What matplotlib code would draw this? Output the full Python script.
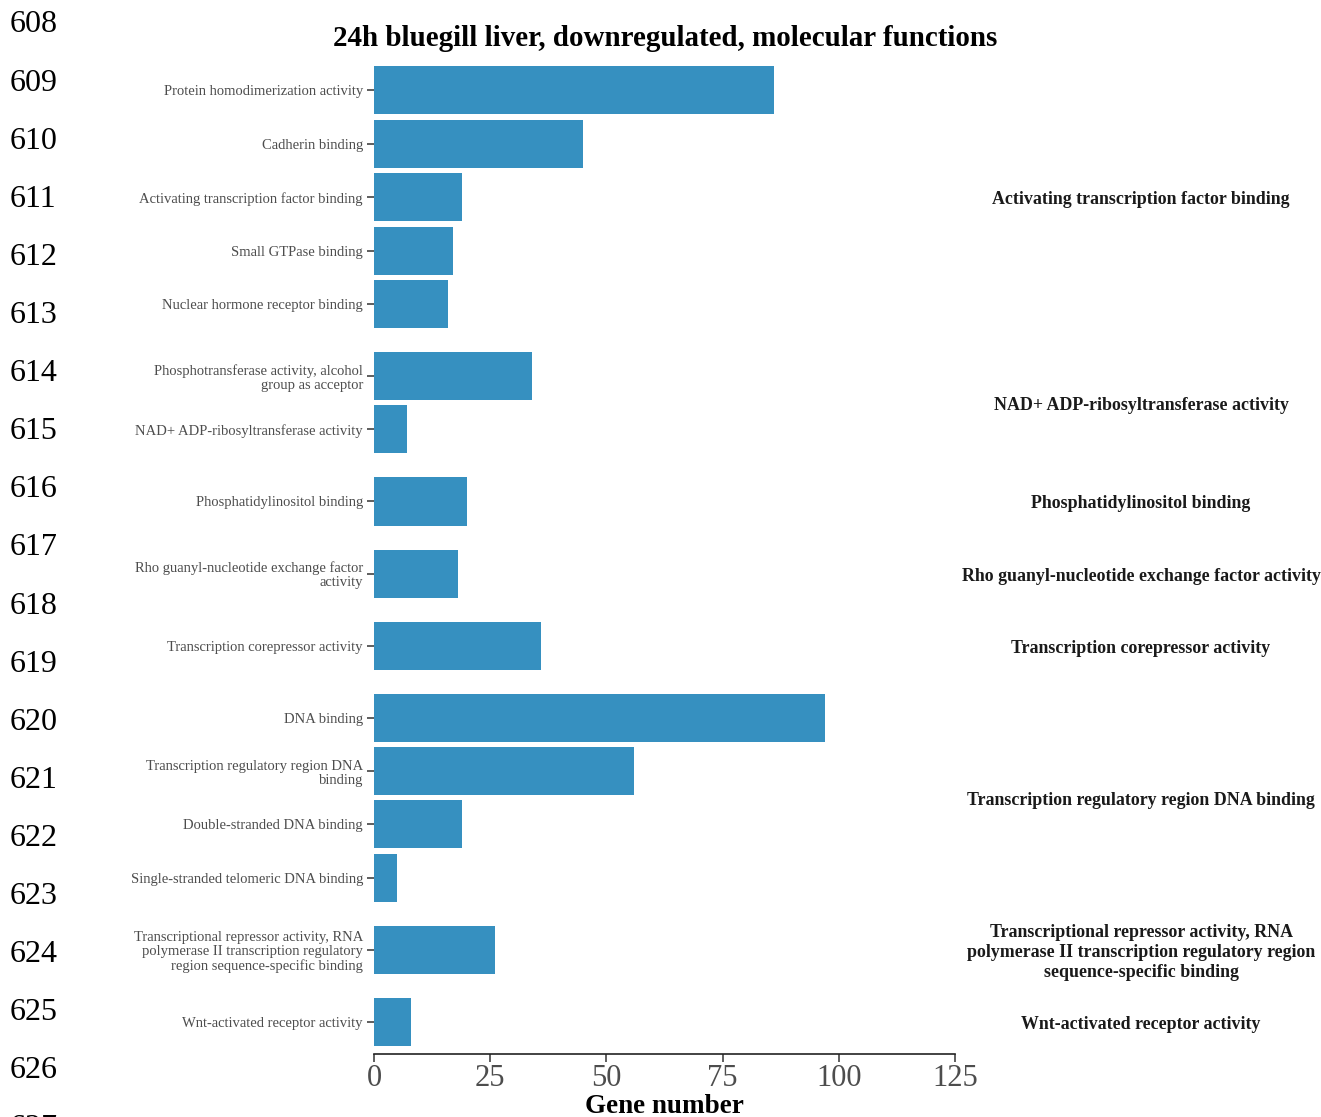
import matplotlib
matplotlib.use("Agg")
import matplotlib.pyplot as plt
import matplotlib.transforms as mtransforms
import numpy as np

plt.rcParams['font.family'] = ['Liberation Serif', 'DejaVu Serif']

# GO terms (molecular function), top to bottom
terms = [
    "Protein homodimerization activity",
    "Cadherin binding",
    "Activating transcription factor binding",
    "Small GTPase binding",
    "Nuclear hormone receptor binding",
    "Phosphotransferase activity, alcohol\ngroup as acceptor",
    "NAD+ ADP-ribosyltransferase activity",
    "Phosphatidylinositol binding",
    "Rho guanyl-nucleotide exchange factor\nactivity",
    "Transcription corepressor activity",
    "DNA binding",
    "Transcription regulatory region DNA\nbinding",
    "Double-stranded DNA binding",
    "Single-stranded telomeric DNA binding",
    "Transcriptional repressor activity, RNA\npolymerase II transcription regulatory\nregion sequence-specific binding",
    "Wnt-activated receptor activity",
]
gene_counts = [86, 45, 19, 17, 16, 34, 7, 20, 18, 36, 97, 56, 19, 5, 26, 8]

# Cluster representative terms and how many terms each cluster holds
cluster_labels = [
    "Activating transcription factor binding",
    "NAD+ ADP-ribosyltransferase activity",
    "Phosphatidylinositol binding",
    "Rho guanyl-nucleotide exchange factor activity",
    "Transcription corepressor activity",
    "Transcription regulatory region DNA binding",
    "Transcriptional repressor activity, RNA\npolymerase II transcription regulatory region\nsequence-specific binding",
    "Wnt-activated receptor activity",
]
cluster_sizes = [5, 2, 1, 1, 1, 4, 1, 1]

x_ticks = [0, 25, 50, 75, 100, 125]
line_numbers = list(range(608, 628))

W, H = 1321, 1117
fig = plt.figure(figsize=(W / 100, H / 100), dpi=100)

# bar positions: unit step inside a cluster, wider step between clusters
gap = 1.35
ypos = []
y = 0.0
for gi, n in enumerate(cluster_sizes):
    if gi > 0:
        y += gap - 1.0
    for k in range(n):
        ypos.append(y)
        y += 1.0
ypos = np.array(ypos)
pad = 0.6
ylo, yhi = ypos[0] - pad, ypos[-1] + pad

ax_left, ax_right = 374, 955
ax_top, ax_bot = 58.4, 1054
ax = fig.add_axes([ax_left / W, 1 - ax_bot / H, (ax_right - ax_left) / W, (ax_bot - ax_top) / H])

bar_color = "#3690c0"
ax.barh(ypos, gene_counts, height=0.9, color=bar_color, edgecolor="none")
ax.set_ylim(yhi, ylo)
ax.set_xlim(0, 125)
ax.set_xticks(x_ticks)
ax.set_xticklabels([str(t) for t in x_ticks], fontsize=22, color="#4d4d4d")
ax.set_yticks(ypos)
ax.set_yticklabels(terms, fontsize=10.5, color="#4d4d4d", linespacing=1.1)
for sp in ["top", "right", "left"]:
    ax.spines[sp].set_visible(False)
ax.spines["bottom"].set_linewidth(1.2)
ax.spines["bottom"].set_color("#222222")
ax.tick_params(axis="x", length=6, width=1.1, color="#333333", pad=1)
ax.tick_params(axis="y", length=5, width=1.1, color="#333333", pad=3)
ax.set_xlabel("Gene number", fontsize=19.5, fontweight="bold", labelpad=1)

# cluster labels on the right, centred on each cluster
label_tf = mtransforms.blended_transform_factory(mtransforms.IdentityTransform(), ax.transData)
shift = mtransforms.ScaledTranslation(0, -2.5 / 100, fig.dpi_scale_trans)
start = 0
for lab, n in zip(cluster_labels, cluster_sizes):
    yc = (ypos[start] + ypos[start + n - 1]) / 2
    ax.text(1141, yc, lab, transform=label_tf + shift,
            ha="center", va="center", fontsize=12.9, fontweight="bold",
            color="#1a1a1a", linespacing=1.2)
    start += n

fig.text(665 / W, 1 - 39 / H, "24h bluegill liver, downregulated, molecular functions",
         ha="center", va="center", fontsize=20.9, fontweight="bold")

# manuscript line numbers along the left margin
for i, num in enumerate(line_numbers):
    yy = 25 + i * 58.1
    fig.text(10 / W, 1 - yy / H, str(num), ha="left", va="center", fontsize=23)

fig.savefig("out.png", dpi=100)
